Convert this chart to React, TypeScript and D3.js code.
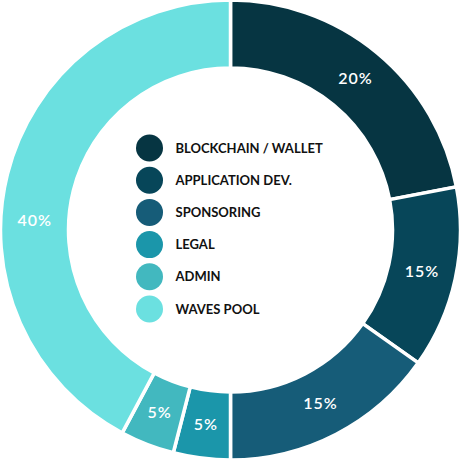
import React from "react";
import * as d3 from "d3";

const categories = ["BLOCKCHAIN / WALLET", "APPLICATION DEV.", "SPONSORING", "LEGAL", "ADMIN", "WAVES POOL"];
// visual share of each slice as drawn (the picture's arcs are not exactly the printed percents)
const shares = [22, 12.8, 15.2, 4, 3.8, 42.2];
const labels = ["20%", "15%", "15%", "5%", "5%", "40%"];
const colors = ["#063542", "#074659", "#165c78", "#1b96aa", "#42b8bf", "#6be0e0"];

const W = 461;
const H = 461;
const cx = 230.5;
const cy = 230;
const outerR = 230;
const innerR = 162;
const labelR = 196;

export default function App() {
  const pie = d3.pie<number>().sort(null).value((d) => d);
  const arcs = pie(shares);
  const arcGen = d3.arc<d3.PieArcDatum<number>>().innerRadius(innerR).outerRadius(outerR);
  const labelArc = d3.arc<d3.PieArcDatum<number>>().innerRadius(labelR).outerRadius(labelR);

  const legendY = d3.scalePoint<string>().domain(categories).range([148, 309]);

  return (
    <svg
      width={W}
      height={H}
      style={{ position: "absolute", left: 0, top: 0, background: "#fff" }}
      fontFamily="Lato, 'Open Sans', sans-serif"
    >
      <g transform={`translate(${cx},${cy})`}>
        {arcs.map((a, i) => (
          <path key={i} d={arcGen(a) || ""} fill={colors[i]} stroke="#fff" strokeWidth={3.5} />
        ))}
        {arcs.map((a, i) => {
          let [x, y] = labelArc.centroid(a);
          if (i === arcs.length - 1) {
            const ang = a.startAngle + 0.425 * (a.endAngle - a.startAngle);
            x = labelR * Math.sin(ang);
            y = -labelR * Math.cos(ang);
          }
          return (
            <text
              key={i}
              x={x}
              y={y}
              dy="0.33em"
              textAnchor="middle"
              fill="#fff"
              fontSize={16}
              fontWeight={600}
              letterSpacing={1}
            >
              {labels[i]}
            </text>
          );
        })}
      </g>
      <g>
        {categories.map((c, i) => (
          <g key={c} transform={`translate(0,${legendY(c)})`}>
            <circle cx={149.5} cy={0} r={13.5} fill={colors[i]} />
            <text x={175.5} y={0} dy="0.36em" fontSize={13} fontWeight={700} fill="#111">
              {c}
            </text>
          </g>
        ))}
      </g>
    </svg>
  );
}
